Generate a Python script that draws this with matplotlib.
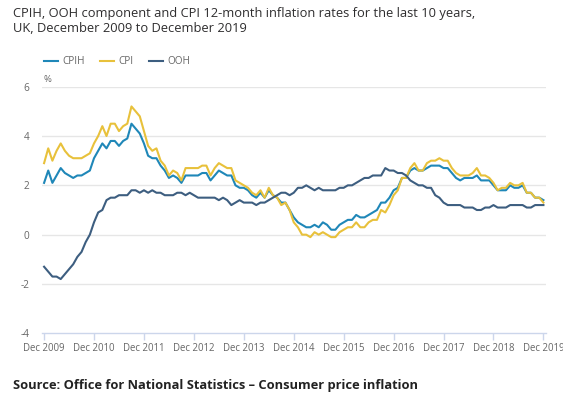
import matplotlib
matplotlib.use("Agg")
import matplotlib.pyplot as plt
import numpy as np

plt.rcParams['font.family'] = ['Open Sans', 'DejaVu Sans']

tick_labels = ["Dec 2009", "Dec 2010", "Dec 2011", "Dec 2012", "Dec 2013", "Dec 2014",
               "Dec 2015", "Dec 2016", "Dec 2017", "Dec 2018", "Dec 2019"]

cpih = [2.1,
        2.6, 2.1, 2.4, 2.7, 2.5, 2.4, 2.3, 2.4, 2.4, 2.5, 2.6, 3.1,
        3.4, 3.7, 3.5, 3.8, 3.8, 3.6, 3.8, 3.9, 4.5, 4.3, 4.1, 3.7,
        3.2, 3.1, 3.1, 2.8, 2.6, 2.3, 2.4, 2.3, 2.1, 2.4, 2.4, 2.4,
        2.4, 2.5, 2.5, 2.2, 2.4, 2.6, 2.5, 2.4, 2.4, 2.0, 1.9, 1.9,
        1.8, 1.6, 1.5, 1.7, 1.5, 1.8, 1.6, 1.5, 1.3, 1.3, 1.0, 0.7,
        0.5, 0.4, 0.3, 0.3, 0.4, 0.3, 0.5, 0.4, 0.2, 0.2, 0.4, 0.5,
        0.6, 0.6, 0.8, 0.7, 0.7, 0.8, 0.9, 1.0, 1.3, 1.3, 1.5, 1.8,
        1.9, 2.3, 2.3, 2.6, 2.7, 2.6, 2.6, 2.7, 2.8, 2.8, 2.8, 2.7,
        2.7, 2.5, 2.3, 2.2, 2.3, 2.3, 2.3, 2.4, 2.2, 2.2, 2.2, 2.0,
        1.8, 1.8, 1.8, 2.0, 1.9, 1.9, 2.0, 1.7, 1.7, 1.5, 1.5, 1.4]

cpi = [2.9,
       3.5, 3.0, 3.4, 3.7, 3.4, 3.2, 3.1, 3.1, 3.1, 3.2, 3.3, 3.7,
       4.0, 4.4, 4.0, 4.5, 4.5, 4.2, 4.4, 4.5, 5.2, 5.0, 4.8, 4.2,
       3.6, 3.4, 3.5, 3.0, 2.8, 2.4, 2.6, 2.5, 2.2, 2.7, 2.7, 2.7,
       2.7, 2.8, 2.8, 2.4, 2.7, 2.9, 2.8, 2.7, 2.7, 2.2, 2.1, 2.0,
       1.9, 1.7, 1.6, 1.8, 1.5, 1.9, 1.6, 1.5, 1.2, 1.3, 1.0, 0.5,
       0.3, 0.0, 0.0, -0.1, 0.1, 0.0, 0.1, 0.0, -0.1, -0.1, 0.1, 0.2,
       0.3, 0.3, 0.5, 0.3, 0.3, 0.5, 0.6, 0.6, 1.0, 0.9, 1.2, 1.6,
       1.8, 2.3, 2.3, 2.7, 2.9, 2.6, 2.6, 2.9, 3.0, 3.0, 3.1, 3.0,
       3.0, 2.7, 2.5, 2.4, 2.4, 2.4, 2.5, 2.7, 2.4, 2.4, 2.3, 2.1,
       1.8, 1.9, 1.9, 2.1, 2.0, 2.0, 2.1, 1.7, 1.7, 1.5, 1.5, 1.3]

ooh = [-1.3,
       -1.5, -1.7, -1.7, -1.8, -1.6, -1.4, -1.2, -0.9, -0.7, -0.3, 0.0, 0.5,
       0.9, 1.0, 1.4, 1.5, 1.5, 1.6, 1.6, 1.6, 1.8, 1.8, 1.7, 1.8,
       1.7, 1.8, 1.7, 1.7, 1.6, 1.6, 1.6, 1.7, 1.7, 1.6, 1.7, 1.6,
       1.5, 1.5, 1.5, 1.5, 1.5, 1.4, 1.5, 1.4, 1.2, 1.3, 1.4, 1.3,
       1.3, 1.3, 1.2, 1.3, 1.3, 1.4, 1.5, 1.6, 1.7, 1.7, 1.6, 1.7,
       1.9, 1.9, 2.0, 1.9, 1.8, 1.9, 1.8, 1.8, 1.8, 1.8, 1.9, 1.9,
       2.0, 2.0, 2.1, 2.2, 2.3, 2.3, 2.4, 2.4, 2.4, 2.7, 2.6, 2.6,
       2.5, 2.5, 2.4, 2.2, 2.1, 2.0, 2.0, 1.9, 1.9, 1.6, 1.5, 1.3,
       1.2, 1.2, 1.2, 1.2, 1.1, 1.1, 1.1, 1.0, 1.0, 1.1, 1.1, 1.2,
       1.1, 1.1, 1.1, 1.2, 1.2, 1.2, 1.2, 1.1, 1.1, 1.2, 1.2, 1.2]

series_names = ["CPIH", "CPI", "OOH"]
colors = ["#1f87b8", "#e8c13b", "#3d5e80"]

W, H = 563, 399
fig = plt.figure(figsize=(W / 100, H / 100), dpi=100)

def fx(px):
    return px / W

def fy(py):
    return 1 - py / H

ax_left, ax_right, ax_top, ax_bottom = 42, 545.5, 86.7, 333.3
ax = fig.add_axes([fx(ax_left), fy(ax_bottom), fx(ax_right - ax_left), (ax_bottom - ax_top) / H])

months = np.arange(len(cpih))
lines = []
for vals, name, col in zip([cpih, cpi, ooh], series_names, colors):
    ln, = ax.plot(months, vals, color=col, lw=1.5, label=name, solid_joinstyle='round', zorder=3)
    lines.append(ln)

ax.set_xlim(-0.5, 120.5)
ax.set_ylim(-4, 6)
ax.set_yticks([-4, -2, 0, 2, 4, 6])
ax.set_yticklabels(["-4", "-2", "0", "2", "4", "6"])
for y in [-2, 0, 2, 4, 6]:
    ax.axhline(y, color="#e6e6e6", lw=1.0, zorder=1)
ax.set_xticks(np.arange(0, 121, 12))
ax.set_xticklabels(tick_labels)

for s in ["top", "right", "left"]:
    ax.spines[s].set_visible(False)
ax.spines["bottom"].set_color("#ccd6eb")
ax.spines["bottom"].set_linewidth(1.0)
ax.tick_params(axis='x', colors="#ccd6eb", length=5, width=1.0, labelcolor="#666666", labelsize=6.9, pad=2)
ax.tick_params(axis='y', length=0, labelcolor="#666666", labelsize=7.2, pad=9)
ax.set_facecolor("none")

fig.text(fx(43), fy(80), "%", fontsize=6.8, color="#666666", ha="left", va="center")

fig.text(fx(13), fy(13), "CPIH, OOH component and CPI 12-month inflation rates for the last 10 years,",
         fontsize=9.3, color="#2e2d2e", ha="left", va="center")
fig.text(fx(13), fy(28), "UK, December 2009 to December 2019",
         fontsize=9.3, color="#2e2d2e", ha="left", va="center")

leg = fig.legend(handles=lines, labels=series_names, loc="center left",
                 bbox_to_anchor=(fx(44), fy(62)), ncol=3, frameon=False,
                 fontsize=7.2, handlelength=1.4, handletextpad=0.45, columnspacing=1.5,
                 labelcolor="#666666", borderaxespad=0, borderpad=0)

fig.text(fx(13), fy(386), "Source: Office for National Statistics \u2013 Consumer price inflation",
         fontsize=9.3, fontweight="bold", color="#222222", ha="left", va="center")

fig.savefig("out.png", dpi=100)
